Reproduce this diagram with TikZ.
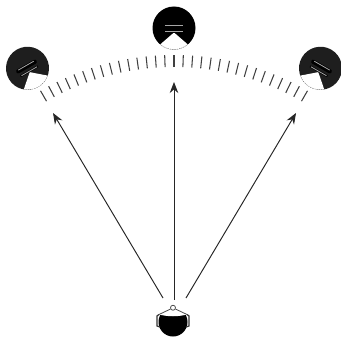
\documentclass[tikz,border=0pt]{standalone}
\usepackage{xcolor}
\usetikzlibrary{arrows.meta,calc}
\definecolor{spkdark}{HTML}{1E1E1E}
\tikzset{
  sightline/.style={draw=black!85,line width=0.55pt,-{Stealth[length=2.2mm,width=1.7mm]}},
  tickline/.style={black!75,line width=0.6pt},
  strapline/.style={black!70,line width=0.45pt},
  earline/.style={black!80,line width=0.7pt},
  pics/speaker/.style={code={
    \fill[#1] (0,0) circle (0.43);
    \fill[white] (0,-0.09) -- (-50:0.43) arc (-50:-130:0.43) -- cycle;
    \draw[black!60,densely dotted,line width=0.3pt] (-50:0.43) arc (-50:-130:0.43);
    \draw[black,line width=2.4pt,line cap=round] (-0.19,0.04) -- (0.19,0.04);
    \draw[black,line width=1.2pt] (-0.2,-0.07) -- (0.2,-0.07);
    \draw[black!35,line width=0.45pt] (-0.18,0.06) -- (0.18,0.06);
    \draw[black!35,line width=0.45pt] (-0.18,-0.07) -- (0.18,-0.07);
  }}
}
\begin{document}
\begin{tikzpicture}
    \useasboundingbox (-3.48,-0.28) rectangle (3.34,6.44);
    % speakers
    \pic[rotate=30] at (120:5.86) {speaker=spkdark};
    \pic at (90:5.88) {speaker=black};
    \pic[rotate=-30] at (60:5.86) {speaker=spkdark};
    % scale
    \foreach \a in {-30,-28,...,30}
        \draw[tickline] (90+\a:5.10) -- (90+\a:5.34);
    % listener
    \node[circle,fill=black,inner sep=0pt,minimum size=0.58cm] (head) at (-0.02,0) {};
    \fill[white] (-0.33,0.16) .. controls (-0.14,0.1) and (0.1,0.1) .. (0.29,0.16)
        -- (0.29,0.32) -- (-0.33,0.32) -- cycle;
    \node[circle,draw=black!70,fill=white,inner sep=0pt,minimum size=0.1cm,line width=0.45pt] (nose) at (-0.02,0.285) {};
    \coordinate (earl) at (-0.3,0.15);
    \coordinate (earr) at (0.26,0.15);
    \draw[strapline] (nose) -- (-0.09,0.25) -- (earl);
    \draw[strapline] (nose) -- (0.05,0.25) -- (earr);
    \draw[earline] (earl) -- (-0.34,0.12) -- (-0.34,-0.08) -- (-0.28,-0.1);
    \draw[earline] (earr) -- (0.3,0.12) -- (0.3,-0.08) -- (0.24,-0.1);
    % sight lines
    \coordinate (lstart) at (-0.22,0.48);
    \coordinate (mstart) at (0,0.44);
    \coordinate (rstart) at (0.24,0.48);
    \coordinate (lend) at (-2.42,4.18);
    \coordinate (mend) at (0,4.8);
    \coordinate (rend) at (2.44,4.18);
    \draw[sightline] (lstart) -- (lend);
    \draw[sightline] (mstart) -- (mend);
    \draw[sightline] (rstart) -- (rend);
\end{tikzpicture}
\end{document}
